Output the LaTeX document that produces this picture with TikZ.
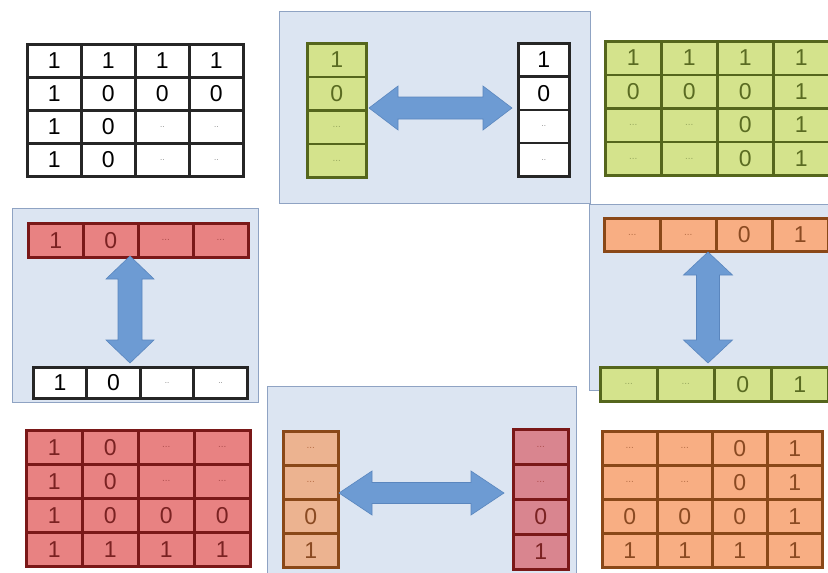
\documentclass[tikz,border=0pt]{standalone}
\usepackage{fontspec}
\setmainfont{Liberation Sans}
\usetikzlibrary{matrix}
\definecolor{gFill}{HTML}{D4E38C}
\definecolor{gLine}{HTML}{55661C}
\definecolor{gText}{HTML}{5A6B22}
\definecolor{gDot}{HTML}{9AAA60}
\definecolor{rFill}{HTML}{E88282}
\definecolor{rLine}{HTML}{7A1818}
\definecolor{rText}{HTML}{7A2222}
\definecolor{rDot}{HTML}{B05050}
\definecolor{oFill}{HTML}{F8AE83}
\definecolor{oLine}{HTML}{8A4818}
\definecolor{oText}{HTML}{8A4A22}
\definecolor{oDot}{HTML}{B87048}
\definecolor{oFillB}{HTML}{ECB390}
\definecolor{rFillB}{HTML}{D9858F}
\definecolor{arrF}{HTML}{6D9BD3}
\definecolor{arrL}{HTML}{5A86BE}
\definecolor{panF}{HTML}{DCE5F2}
\definecolor{panL}{HTML}{8FA3C3}
\newcommand\dd[1]{{\fontsize{10}{10}\selectfont\color{#1}...}}
\newcommand\wdots{{\fontsize{8}{8}\selectfont\color{gray}..}}
% name, cx, cy, angle, half length, half width, half shaft, head length
\newcommand\dblarrow[8]{%
  \coordinate (#1) at (#2,#3);
  \draw[blockarrow, shift={(#1)}, rotate=#4]
    (-#5,0) -- (-#5+#8,-#6) -- (-#5+#8,-#7) -- (#5-#8,-#7) -- (#5-#8,-#6)
    -- (#5,0) -- (#5-#8,#6) -- (#5-#8,#7) -- (-#5+#8,#7) -- (-#5+#8,#6) -- cycle;}
\begin{document}
\begin{tikzpicture}[x=1pt,y=-1pt,
  mat/.style={matrix of nodes, inner sep=0pt, outer sep=0pt,
    column sep=-2.6pt, row sep=-2.6pt, anchor=north west},
  cell/.style={anchor=center, line width=2.6pt, inner sep=0pt,
    font=\fontsize{23}{26}\selectfont},
  cellW/.style={cell, draw=black!85, fill=white, text=black},
  cellG/.style={cell, draw=gLine, fill=gFill, text=gText},
  cellR/.style={cell, draw=rLine, fill=rFill, text=rText},
  cellO/.style={cell, draw=oLine, fill=oFill, text=oText},
  cellOB/.style={cell, draw=oLine, fill=oFillB, text=oText},
  cellRB/.style={cell, draw=rLine, fill=rFillB, text=rText},
  panel/.style={fill=panF, draw=panL, line width=1pt},
  blockarrow/.style={fill=arrF, draw=arrL, line width=0.6pt, line join=miter}]
\useasboundingbox (0,0) rectangle (828,573);
\fill[white] (0,0) rectangle (828,573);
% panels
\draw[panel] (279,11) rectangle (590,203);
\draw[panel] (12,208) rectangle (258,402);
\draw[panel] (589,204) rectangle (840,390);
\draw[panel] (267,386) rectangle (576,590);
% top-left white matrix
\matrix (TL) [mat, nodes={cellW, minimum width=54, minimum height=33}] at (26,43) {
1 & 1 & 1 & 1 \\
1 & 0 & 0 & 0 \\
1 & 0 & \wdots & \wdots \\
1 & 0 & \wdots & \wdots \\
};
% top panel columns
\matrix (G1) [mat, nodes={cellG, minimum width=59, minimum height=33.5}] at (306,42) {
1 \\ 0 \\ \dd{gDot} \\ \dd{gDot} \\
};
\matrix (W1) [mat, nodes={cellW, minimum width=51, minimum height=33.25}] at (517,42) {
1 \\ 0 \\ \wdots \\ \wdots \\
};
% top-right green matrix
\matrix (TR) [mat, nodes={cellG, minimum width=56, minimum height=33.5}] at (604,40) {
1 & 1 & 1 & 1 \\
0 & 0 & 0 & 1 \\
\dd{gDot} & \dd{gDot} & 0 & 1 \\
\dd{gDot} & \dd{gDot} & 0 & 1 \\
};
% left panel rows
\matrix (R1) [mat, nodes={cellR, minimum width=55, minimum height=34}] at (27,222) {
1 & 0 & \dd{rDot} & \dd{rDot} \\
};
\matrix (W2) [mat, nodes={cellW, minimum width=53.5, minimum height=31}] at (32,366) {
1 & 0 & \wdots & \wdots \\
};
% right panel rows
\matrix (O1) [mat, nodes={cellO, minimum width=56, minimum height=33}] at (603,217) {
\dd{oDot} & \dd{oDot} & 0 & 1 \\
};
\matrix (G2) [mat, nodes={cellG, minimum width=57, minimum height=34}] at (599,366) {
\dd{gDot} & \dd{gDot} & 0 & 1 \\
};
% bottom-left red matrix
\matrix (BL) [mat, nodes={cellR, minimum width=56, minimum height=34}] at (25,429) {
1 & 0 & \dd{rDot} & \dd{rDot} \\
1 & 0 & \dd{rDot} & \dd{rDot} \\
1 & 0 & 0 & 0 \\
1 & 1 & 1 & 1 \\
};
% bottom panel columns
\matrix (O2) [mat, nodes={cellOB, minimum width=55, minimum height=34}] at (282,430) {
\dd{oDot} \\ \dd{oDot} \\ 0 \\ 1 \\
};
\matrix (R2) [mat, nodes={cellRB, minimum width=55, minimum height=35}] at (512,428) {
\dd{rDot} \\ \dd{rDot} \\ 0 \\ 1 \\
};
% bottom-right orange matrix
\matrix (BR) [mat, nodes={cellO, minimum width=55, minimum height=34}] at (601,430) {
\dd{oDot} & \dd{oDot} & 0 & 1 \\
\dd{oDot} & \dd{oDot} & 0 & 1 \\
0 & 0 & 0 & 1 \\
1 & 1 & 1 & 1 \\
};
% block arrows
\dblarrow{A1}{440.5}{108}{0}{71.5}{22}{11}{29}
\dblarrow{A2}{130}{309.5}{90}{53.5}{24}{12}{23}
\dblarrow{A3}{708}{307.5}{90}{55.5}{24.5}{11.5}{23}
\dblarrow{A4}{421.5}{493}{0}{82.5}{22}{10.5}{33}
\end{tikzpicture}
\end{document}
